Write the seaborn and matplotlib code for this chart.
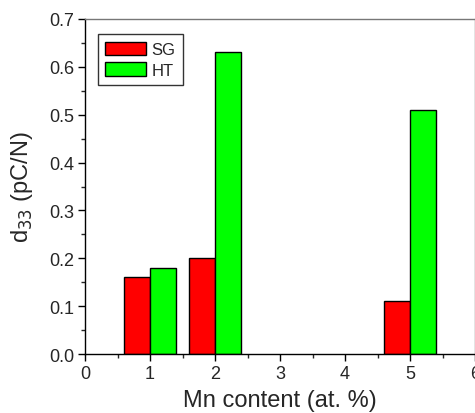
import matplotlib
matplotlib.use("Agg")
import matplotlib.pyplot as plt
from matplotlib.ticker import MultipleLocator, FormatStrFormatter
import seaborn as sns
import pandas as pd

# Piezoelectric coefficient vs. Mn doping for two synthesis routes
mn_content = [1, 2, 5]
d33_sg = [0.16, 0.20, 0.11]
d33_ht = [0.18, 0.63, 0.51]
methods = ["SG", "HT"]
colors = {"SG": "#ff0000", "HT": "#00ff00"}

df = pd.DataFrame({
    "mn": mn_content * 2,
    "d33": d33_sg + d33_ht,
    "method": ["SG"] * len(mn_content) + ["HT"] * len(mn_content),
})

sns.set_style("ticks")
plt.rcParams["font.family"] = ["Liberation Sans", "DejaVu Sans"]

fig = plt.figure(figsize=(4.75, 4.14), dpi=100)
ax = fig.add_axes([0.179, 0.1425, 0.821, 0.8092])

sns.barplot(data=df, x="mn", y="d33", hue="method", hue_order=methods,
            palette=colors, native_scale=True, width=0.8,
            edgecolor="black", linewidth=1.0, saturation=1, ax=ax)

ax.set_xlim(0, 6)
ax.set_ylim(0, 0.7)
ax.xaxis.set_major_locator(MultipleLocator(1))
ax.xaxis.set_minor_locator(MultipleLocator(0.5))
ax.yaxis.set_major_locator(MultipleLocator(0.1))
ax.yaxis.set_minor_locator(MultipleLocator(0.05))
ax.xaxis.set_major_formatter(FormatStrFormatter("%d"))
ax.yaxis.set_major_formatter(FormatStrFormatter("%.1f"))
ax.tick_params(which="major", direction="out", length=5, width=1,
               labelsize=13, top=False, right=False, color="black", pad=3)
ax.tick_params(which="minor", direction="out", length=3, width=1,
               top=False, right=False)

for side in ["left", "bottom"]:
    ax.spines[side].set_color("black")
    ax.spines[side].set_linewidth(1.0)
for side in ["top", "right"]:
    ax.spines[side].set_visible(True)
    ax.spines[side].set_color("#777777")
    ax.spines[side].set_linewidth(1.0)

ax.set_xlabel("Mn content (at. %)", fontsize=17, labelpad=5)
ax.set_ylabel(r"d$_{33}$ (pC/N)", fontsize=17, labelpad=10)

leg = ax.legend(loc="upper left", bbox_to_anchor=(0.033, 0.955), fontsize=12,
                frameon=True, fancybox=False, handlelength=2.45,
                handleheight=0.9, handletextpad=0.3, borderpad=0.45,
                labelspacing=0.3, borderaxespad=0.0)
leg.get_frame().set_edgecolor("black")
leg.get_frame().set_linewidth(1.0)

fig.savefig("out.png", dpi=100)
